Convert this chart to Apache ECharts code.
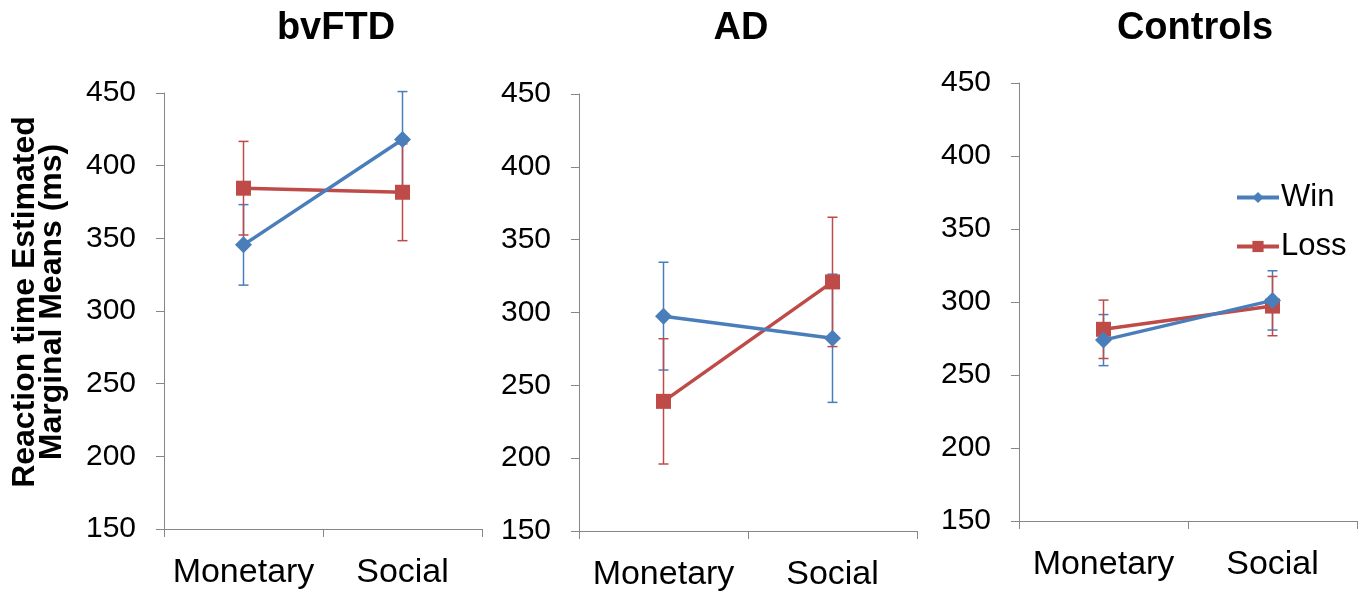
<!DOCTYPE html>
<html>
<head>
<meta charset="utf-8">
<script src="https://cdn.jsdelivr.net/npm/echarts@6/dist/echarts.min.js"></script>
<style>
html,body{margin:0;padding:0;background:#fff;}
#chart{width:1366px;height:599px;}
</style>
</head>
<body>
<div id="chart"></div>
<script>
// ---- data ----
var categories = ['Monetary', 'Social'];
var panelTitles = ['bvFTD', 'AD', 'Controls'];
var yTicks = [150, 200, 250, 300, 350, 400, 450];

var bvftdWin = [345.5, 418];
var bvftdWinErr = [27.7, 33];
var bvftdLoss = [384.5, 381.7];
var bvftdLossErr = [32.2, 33.3];

var adWin = [297.5, 282.3];
var adWinErr = [37, 44];
var adLoss = [239, 321];
var adLossErr = [43, 44.4];

var ctrlWin = [273.9, 301.1];
var ctrlWinErr = [17.5, 20.3];
var ctrlLoss = [281.3, 297.2];
var ctrlLossErr = [20, 20.3];

var yTitleLines = ['Reaction time Estimated', 'Marginal Means (ms)'];

// ---- styles ----
var FONT = 'Liberation Sans, Arial, sans-serif';
var BLUE = '#4a7ebb';
var RED = '#be4b48';
var AXIS = '#868686';

var panels = [
  {win: bvftdWin, winErr: bvftdWinErr, loss: bvftdLoss, lossErr: bvftdLossErr,
   grid: {left: 164, top: 93, width: 318, height: 436}, titleX: 336},
  {win: adWin, winErr: adWinErr, loss: adLoss, lossErr: adLossErr,
   grid: {left: 579, top: 94, width: 338, height: 437}, titleX: 741},
  {win: ctrlWin, winErr: ctrlWinErr, loss: ctrlLoss, lossErr: ctrlLossErr,
   grid: {left: 1019, top: 83, width: 338, height: 438}, titleX: 1195}
];

function errData(vals, errs) {
  return vals.map(function (v, i) { return [i, v - errs[i], v + errs[i]]; });
}

function errRender(color) {
  return function (params, api) {
    var lo = api.coord([api.value(0), api.value(1)]);
    var hi = api.coord([api.value(0), api.value(2)]);
    var hw = 5;
    var st = {stroke: color, lineWidth: 1.5};
    return {
      type: 'group',
      children: [
        {type: 'line', shape: {x1: lo[0], y1: lo[1], x2: hi[0], y2: hi[1]}, style: st},
        {type: 'line', shape: {x1: lo[0] - hw, y1: lo[1], x2: lo[0] + hw, y2: lo[1]}, style: st},
        {type: 'line', shape: {x1: hi[0] - hw, y1: hi[1], x2: hi[0] + hw, y2: hi[1]}, style: st}
      ]
    };
  };
}

var grids = [], xAxes = [], yAxes = [], series = [], graphics = [];

panels.forEach(function (p, k) {
  grids.push(p.grid);
  xAxes.push({
    type: 'category', gridIndex: k, data: categories, boundaryGap: true,
    axisLine: {lineStyle: {color: AXIS, width: 1}},
    axisTick: {show: true, interval: 0, length: 8, lineStyle: {color: AXIS}},
    axisLabel: {interval: 0, fontSize: 34, color: '#000', fontFamily: FONT, margin: 27}
  });
  yAxes.push({
    type: 'value', gridIndex: k, min: yTicks[0], max: yTicks[yTicks.length - 1], interval: 50,
    splitLine: {show: false},
    axisLine: {show: true, lineStyle: {color: AXIS, width: 1}},
    axisTick: {show: true, length: 8, lineStyle: {color: AXIS}},
    axisLabel: {fontSize: 30, color: '#000', fontFamily: FONT, margin: 28}
  });
  series.push({
    type: 'custom', xAxisIndex: k, yAxisIndex: k, z: 1, silent: true,
    renderItem: errRender(BLUE), data: errData(p.win, p.winErr)
  });
  series.push({
    type: 'custom', xAxisIndex: k, yAxisIndex: k, z: 1, silent: true,
    renderItem: errRender(RED), data: errData(p.loss, p.lossErr)
  });
  series.push({
    name: 'Win', type: 'line', xAxisIndex: k, yAxisIndex: k, z: 3,
    data: p.win, symbol: 'diamond', symbolSize: 17,
    lineStyle: {color: BLUE, width: 3.5}, itemStyle: {color: BLUE}
  });
  series.push({
    name: 'Loss', type: 'line', xAxisIndex: k, yAxisIndex: k, z: 2,
    data: p.loss, symbol: 'rect', symbolSize: 15,
    lineStyle: {color: RED, width: 3.5}, itemStyle: {color: RED}
  });
  graphics.push({
    type: 'text', x: p.titleX, y: 29,
    style: {text: panelTitles[k], fontSize: 38, fontWeight: 'bold', fontFamily: FONT,
            fill: '#000', align: 'center', verticalAlign: 'middle',
            textAlign: 'center', textVerticalAlign: 'middle'}
  });
});

graphics.push({
  type: 'text', x: 39, y: 302, rotation: Math.PI / 2,
  style: {text: yTitleLines.join('\n'), fontSize: 32, fontWeight: 'bold', fontFamily: FONT,
          lineHeight: 27, fill: '#000', align: 'center', verticalAlign: 'middle',
          textAlign: 'center', textVerticalAlign: 'middle'}
});

var chart = echarts.init(document.getElementById('chart'), null, {renderer: 'canvas'});
chart.setOption({
  animation: false,
  backgroundColor: '#fff',
  grid: grids,
  xAxis: xAxes,
  yAxis: yAxes,
  legend: {
    data: ['Win', 'Loss'], orient: 'vertical', left: 1230, top: 177,
    itemWidth: 42, itemHeight: 14, itemGap: 18,
    lineStyle: {width: 4},
    textStyle: {fontSize: 31, color: '#000', fontFamily: FONT, padding: [0, 0, 0, -3]}
  },
  graphic: graphics,
  series: series
});
</script>
</body>
</html>
